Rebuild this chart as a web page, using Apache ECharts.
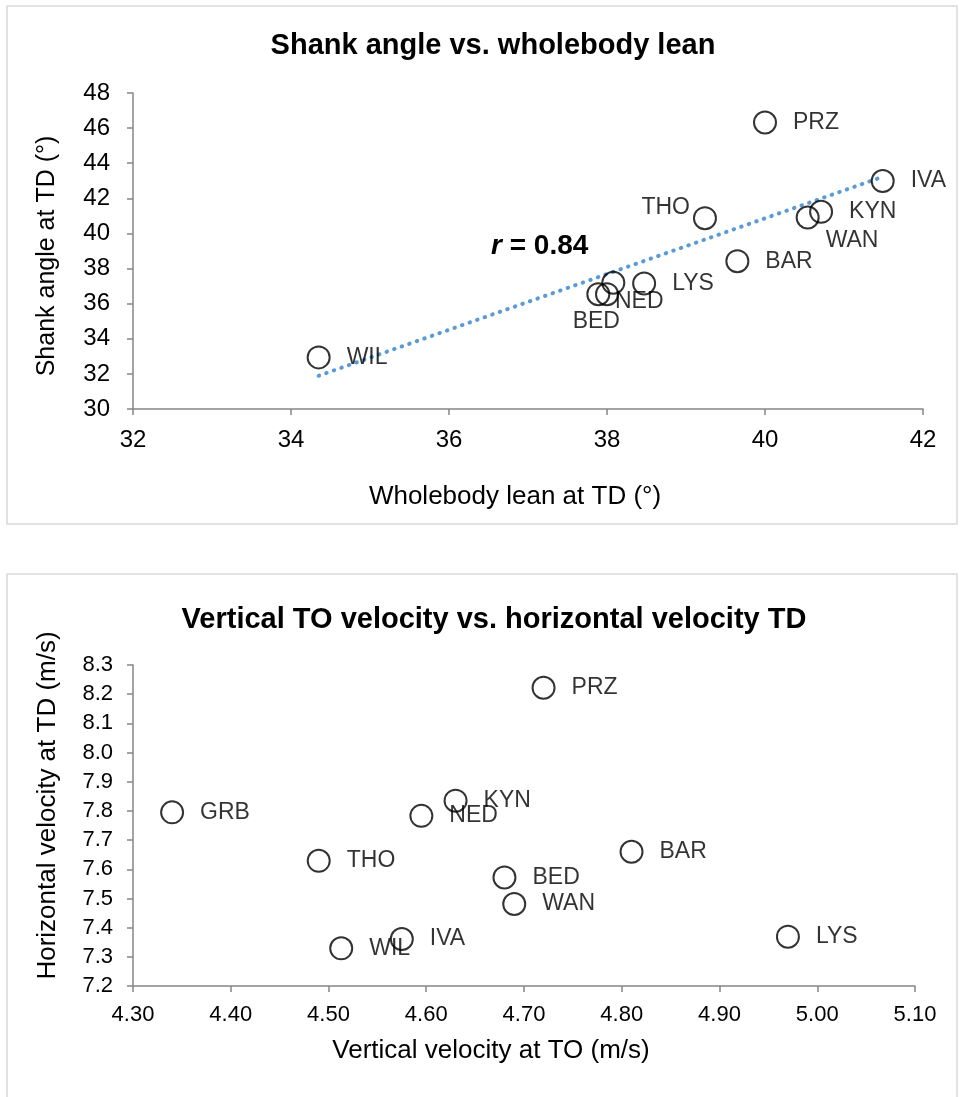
<!DOCTYPE html>
<html>
<head>
<meta charset="utf-8">
<script src="https://cdn.jsdelivr.net/npm/echarts@6/dist/echarts.min.js"></script>
<style>
  html, body { margin: 0; padding: 0; background: #fff; }
  #chart { width: 961px; height: 1097px; }
</style>
</head>
<body>
<div id="chart"></div>
<script>
// Athlete codes (same order in both panels)
const athletes = ['PRZ', 'IVA', 'KYN', 'WAN', 'THO', 'BAR', 'LYS', 'GRB', 'NED', 'BED', 'WIL'];

// Panel 1: wholebody lean vs. shank angle at touchdown (degrees)
const wholebodyLean = [40.00, 41.49, 40.71, 40.54, 39.24, 39.65, 38.47, 38.08, 38.00, 37.89, 34.35];
const shankAngle    = [46.32, 42.99, 41.23, 40.91, 40.87, 38.42, 37.15, 37.19, 36.54, 36.54, 32.94];
const correlationText = '0.84';

// Panel 2: vertical velocity at take-off vs. horizontal velocity at touchdown (m/s)
const verticalTO   = [4.720, 4.575, 4.630, 4.690, 4.490, 4.810, 4.970, 4.340, 4.595, 4.680, 4.513];
const horizontalTD = [8.222, 7.361, 7.835, 7.481, 7.629, 7.660, 7.369, 7.795, 7.783, 7.572, 7.329];

// Axis ranges and tick steps
const leanTicks  = { min: 32, max: 42, step: 2 };
const shankTicks = { min: 30, max: 48, step: 2 };
const vtoTicks   = { min: 4.3, max: 5.1, step: 0.1 };
const htdTicks   = { min: 7.2, max: 8.3, step: 0.1 };

const FONT = '"Liberation Sans", Arial, Helvetica, sans-serif';
const AXIS_GRAY = '#868686';
const TREND_BLUE = '#5b9bd5';

// Least-squares line through a set of points
function linearFit(xs, ys) {
  const n = xs.length;
  const mx = xs.reduce((a, b) => a + b, 0) / n;
  const my = ys.reduce((a, b) => a + b, 0) / n;
  let sxy = 0, sxx = 0;
  for (let i = 0; i < n; i++) {
    sxy += (xs[i] - mx) * (ys[i] - my);
    sxx += (xs[i] - mx) * (xs[i] - mx);
  }
  const slope = sxy / sxx;
  return { slope, intercept: my - slope * mx };
}

// Label placement for points whose names would collide
const topLabelPlacement = {
  WAN: { offset: [-10, 23] },
  THO: { position: 'left', distance: 3, offset: [0, -11] },
  NED: { offset: [-20, 7] },
  BED: { position: 'bottom', distance: 4, offset: [-2, 0] },
  GRB: { show: false }
};
const bottomLabelPlacement = {};

function pointData(xs, ys, placement) {
  return athletes.map((name, i) => ({
    name,
    value: [xs[i], ys[i]],
    label: Object.assign({}, placement[name] || {})
  }));
}

const fit = linearFit(wholebodyLean, shankAngle);
const leanMin = Math.min(...wholebodyLean);
const leanMax = Math.max(...wholebodyLean);
const trendData = [
  [leanMin, fit.intercept + fit.slope * leanMin],
  [leanMax, fit.intercept + fit.slope * leanMax]
];

function textStyle(size) {
  return { color: '#000', fontSize: size, fontFamily: FONT };
}

function valueAxis(gridIndex, t, decimals, labelSize, labelMargin, extra) {
  return Object.assign({
    type: 'value',
    gridIndex,
    min: t.min,
    max: t.max,
    interval: t.step,
    axisLine: { show: true, onZero: false, lineStyle: { color: AXIS_GRAY, width: 1.5 } },
    axisTick: { show: true, length: 6, lineStyle: { color: AXIS_GRAY, width: 1.5 } },
    axisLabel: Object.assign(textStyle(labelSize), {
      margin: labelMargin,
      formatter: v => v.toFixed(decimals)
    }),
    splitLine: { show: false },
    nameLocation: 'middle'
  }, extra);
}

const scatterBase = {
  type: 'scatter',
  symbol: 'circle',
  symbolSize: 22,
  itemStyle: { color: 'rgba(0,0,0,0)', borderColor: '#000', borderWidth: 2 },
  label: Object.assign(textStyle(23), {
    show: true,
    position: 'right',
    distance: 16,
    formatter: '{b}'
  }),
  emphasis: { disabled: true },
  z: 3
};

const chart = echarts.init(document.getElementById('chart'), null, { renderer: 'canvas' });

chart.setOption({
  animation: false,
  backgroundColor: '#fff',
  title: [
    {
      text: 'Shank angle vs. wholebody lean',
      left: 488, top: 26, textAlign: 'center',
      textStyle: { fontSize: 29, fontWeight: 'bold', color: '#000', fontFamily: FONT }
    },
    {
      text: 'Vertical TO velocity vs. horizontal velocity TD',
      left: 489, top: 600, textAlign: 'center',
      textStyle: { fontSize: 29, fontWeight: 'bold', color: '#000', fontFamily: FONT }
    }
  ],
  grid: [
    { left: 133, top: 93, width: 790, height: 316 },
    { left: 133, top: 665, width: 782, height: 321 }
  ],
  xAxis: [
    valueAxis(0, leanTicks, 0, 24, 19, {
      name: 'Wholebody lean at TD (°)', nameGap: 75,
      nameTextStyle: Object.assign(textStyle(26), { padding: [0, 26, 0, 0] })
    }),
    valueAxis(1, vtoTicks, 2, 22, 18, {
      name: 'Vertical velocity at TO (m/s)', nameGap: 52,
      nameTextStyle: Object.assign(textStyle(26), { padding: [0, 66, 0, 0] })
    })
  ],
  yAxis: [
    valueAxis(0, shankTicks, 0, 24, 23, {
      name: 'Shank angle at TD (°)', nameGap: 73,
      nameTextStyle: Object.assign(textStyle(25), { padding: [0, 10, 0, 0] })
    }),
    valueAxis(1, htdTicks, 1, 22, 20, {
      name: 'Horizontal velocity at TD (m/s)', nameGap: 72,
      nameTextStyle: Object.assign(textStyle(26), { padding: [0, 0, 0, 40] })
    })
  ],
  series: [
    {
      type: 'line',
      xAxisIndex: 0, yAxisIndex: 0,
      data: trendData,
      showSymbol: false,
      symbol: 'none',
      lineStyle: { color: TREND_BLUE, width: 4, type: [0.5, 7.5], cap: 'round' },
      emphasis: { disabled: true },
      z: 2
    },
    Object.assign({}, scatterBase, {
      xAxisIndex: 0, yAxisIndex: 0,
      data: pointData(wholebodyLean, shankAngle, topLabelPlacement)
    }),
    Object.assign({}, scatterBase, {
      xAxisIndex: 1, yAxisIndex: 1,
      data: pointData(verticalTO, horizontalTD, bottomLabelPlacement)
    })
  ],
  graphic: [
    // chart area frames
    { type: 'rect', shape: { x: 7, y: 6, width: 950, height: 518 },
      style: { fill: 'none', stroke: '#d9d9d9', lineWidth: 1.5 }, silent: true, z: -1 },
    { type: 'rect', shape: { x: 7, y: 574, width: 950, height: 600 },
      style: { fill: 'none', stroke: '#d9d9d9', lineWidth: 1.5 }, silent: true, z: -1 },
    // correlation coefficient annotation
    {
      type: 'text', left: 491, top: 232, z: 10,
      style: {
        text: '{i|r}{b| = ' + correlationText + '}',
        rich: {
          i: { fontSize: 28, fontWeight: 'bold', fontStyle: 'italic', fontFamily: FONT, fill: '#000' },
          b: { fontSize: 28, fontWeight: 'bold', fontFamily: FONT, fill: '#000' }
        }
      }
    }
  ]
});
</script>
</body>
</html>
